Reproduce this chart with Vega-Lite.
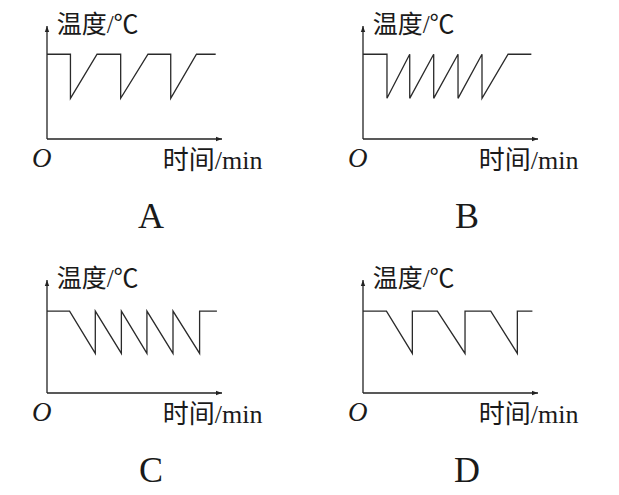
{
  "$schema": "https://vega.github.io/schema/vega-lite/v6.json",
  "autosize": {"type": "pad"},
  "padding": {"left": 32, "top": 13, "right": 40, "bottom": 7},
  "background": "white",
  "config": {"view": {"stroke": null}},
  "data": {"values": [
    {"panel": "A", "kind": "curve", "i": 1, "time": 0, "temp": 7.5},
    {"panel": "A", "kind": "curve", "i": 2, "time": 1.34, "temp": 7.5},
    {"panel": "A", "kind": "curve", "i": 3, "time": 1.34, "temp": 3.6},
    {"panel": "A", "kind": "curve", "i": 4, "time": 2.86, "temp": 7.5},
    {"panel": "A", "kind": "curve", "i": 5, "time": 4.21, "temp": 7.5},
    {"panel": "A", "kind": "curve", "i": 6, "time": 4.21, "temp": 3.6},
    {"panel": "A", "kind": "curve", "i": 7, "time": 5.77, "temp": 7.5},
    {"panel": "A", "kind": "curve", "i": 8, "time": 7.07, "temp": 7.5},
    {"panel": "A", "kind": "curve", "i": 9, "time": 7.07, "temp": 3.6},
    {"panel": "A", "kind": "curve", "i": 10, "time": 8.54, "temp": 7.5},
    {"panel": "A", "kind": "curve", "i": 11, "time": 9.64, "temp": 7.5},

    {"panel": "B", "kind": "curve", "i": 1, "time": 0, "temp": 7.5},
    {"panel": "B", "kind": "curve", "i": 2, "time": 1.37, "temp": 7.5},
    {"panel": "B", "kind": "curve", "i": 3, "time": 1.37, "temp": 3.6},
    {"panel": "B", "kind": "curve", "i": 4, "time": 2.67, "temp": 7.5},
    {"panel": "B", "kind": "curve", "i": 5, "time": 2.67, "temp": 3.6},
    {"panel": "B", "kind": "curve", "i": 6, "time": 4.04, "temp": 7.5},
    {"panel": "B", "kind": "curve", "i": 7, "time": 4.04, "temp": 3.6},
    {"panel": "B", "kind": "curve", "i": 8, "time": 5.43, "temp": 7.5},
    {"panel": "B", "kind": "curve", "i": 9, "time": 5.43, "temp": 3.6},
    {"panel": "B", "kind": "curve", "i": 10, "time": 6.8, "temp": 7.5},
    {"panel": "B", "kind": "curve", "i": 11, "time": 6.8, "temp": 3.6},
    {"panel": "B", "kind": "curve", "i": 12, "time": 8.29, "temp": 7.5},
    {"panel": "B", "kind": "curve", "i": 13, "time": 9.62, "temp": 7.5},

    {"panel": "C", "kind": "curve", "i": 1, "time": 0, "temp": 7.25},
    {"panel": "C", "kind": "curve", "i": 2, "time": 1.29, "temp": 7.25},
    {"panel": "C", "kind": "curve", "i": 3, "time": 2.76, "temp": 3.5},
    {"panel": "C", "kind": "curve", "i": 4, "time": 2.76, "temp": 7.25},
    {"panel": "C", "kind": "curve", "i": 5, "time": 4.25, "temp": 3.5},
    {"panel": "C", "kind": "curve", "i": 6, "time": 4.25, "temp": 7.25},
    {"panel": "C", "kind": "curve", "i": 7, "time": 5.71, "temp": 3.5},
    {"panel": "C", "kind": "curve", "i": 8, "time": 5.71, "temp": 7.25},
    {"panel": "C", "kind": "curve", "i": 9, "time": 7.2, "temp": 3.5},
    {"panel": "C", "kind": "curve", "i": 10, "time": 7.2, "temp": 7.25},
    {"panel": "C", "kind": "curve", "i": 11, "time": 8.72, "temp": 3.5},
    {"panel": "C", "kind": "curve", "i": 12, "time": 8.72, "temp": 7.25},
    {"panel": "C", "kind": "curve", "i": 13, "time": 9.71, "temp": 7.25},

    {"panel": "D", "kind": "curve", "i": 1, "time": 0, "temp": 7.25},
    {"panel": "D", "kind": "curve", "i": 2, "time": 1.34, "temp": 7.25},
    {"panel": "D", "kind": "curve", "i": 3, "time": 2.82, "temp": 3.5},
    {"panel": "D", "kind": "curve", "i": 4, "time": 2.82, "temp": 7.25},
    {"panel": "D", "kind": "curve", "i": 5, "time": 4.25, "temp": 7.25},
    {"panel": "D", "kind": "curve", "i": 6, "time": 5.83, "temp": 3.5},
    {"panel": "D", "kind": "curve", "i": 7, "time": 5.83, "temp": 7.25},
    {"panel": "D", "kind": "curve", "i": 8, "time": 7.3, "temp": 7.25},
    {"panel": "D", "kind": "curve", "i": 9, "time": 8.82, "temp": 3.5},
    {"panel": "D", "kind": "curve", "i": 10, "time": 8.82, "temp": 7.25},
    {"panel": "D", "kind": "curve", "i": 11, "time": 9.68, "temp": 7.25},

    {"panel": "A", "kind": "axis", "time": 0, "temp": 0, "time2": 0, "temp2": 10},
    {"panel": "A", "kind": "axis", "time": 0, "temp": 0, "time2": 10, "temp2": 0},
    {"panel": "B", "kind": "axis", "time": 0, "temp": 0, "time2": 0, "temp2": 10},
    {"panel": "B", "kind": "axis", "time": 0, "temp": 0, "time2": 10, "temp2": 0},
    {"panel": "C", "kind": "axis", "time": 0, "temp": 0, "time2": 0, "temp2": 10},
    {"panel": "C", "kind": "axis", "time": 0, "temp": 0, "time2": 10, "temp2": 0},
    {"panel": "D", "kind": "axis", "time": 0, "temp": 0, "time2": 0, "temp2": 10},
    {"panel": "D", "kind": "axis", "time": 0, "temp": 0, "time2": 10, "temp2": 0},

    {"panel": "A", "kind": "arrow", "time": 0, "temp": 10, "dir": "up"},
    {"panel": "A", "kind": "arrow", "time": 10, "temp": 0, "dir": "right"},
    {"panel": "B", "kind": "arrow", "time": 0, "temp": 10, "dir": "up"},
    {"panel": "B", "kind": "arrow", "time": 10, "temp": 0, "dir": "right"},
    {"panel": "C", "kind": "arrow", "time": 0, "temp": 10, "dir": "up"},
    {"panel": "C", "kind": "arrow", "time": 10, "temp": 0, "dir": "right"},
    {"panel": "D", "kind": "arrow", "time": 0, "temp": 10, "dir": "up"},
    {"panel": "D", "kind": "arrow", "time": 10, "temp": 0, "dir": "right"},

    {"panel": "A", "kind": "ytitle", "time": 0.55, "temp": 9.38, "text": "温度/℃"},
    {"panel": "B", "kind": "ytitle", "time": 0.55, "temp": 9.38, "text": "温度/℃"},
    {"panel": "C", "kind": "ytitle", "time": 0.55, "temp": 9.38, "text": "温度/℃"},
    {"panel": "D", "kind": "ytitle", "time": 0.55, "temp": 9.38, "text": "温度/℃"},
    {"panel": "A", "kind": "xtitle", "time": 6.62, "temp": -2.65, "text": "时间/min"},
    {"panel": "B", "kind": "xtitle", "time": 6.62, "temp": -2.65, "text": "时间/min"},
    {"panel": "C", "kind": "xtitle", "time": 6.62, "temp": -2.65, "text": "时间/min"},
    {"panel": "D", "kind": "xtitle", "time": 6.62, "temp": -2.65, "text": "时间/min"},
    {"panel": "A", "kind": "origin", "time": -0.3, "temp": -2.48, "text": "O"},
    {"panel": "B", "kind": "origin", "time": -0.3, "temp": -2.48, "text": "O"},
    {"panel": "C", "kind": "origin", "time": -0.3, "temp": -2.48, "text": "O"},
    {"panel": "D", "kind": "origin", "time": -0.3, "temp": -2.48, "text": "O"},
    {"panel": "A", "kind": "letter", "time": 5.94, "temp": -7.9, "text": "A"},
    {"panel": "B", "kind": "letter", "time": 5.94, "temp": -7.9, "text": "B"},
    {"panel": "C", "kind": "letter", "time": 5.94, "temp": -7.9, "text": "C"},
    {"panel": "D", "kind": "letter", "time": 5.94, "temp": -7.9, "text": "D"}
  ]},
  "transform": [
    {"lookup": "panel", "from": {"data": {"values": [
      {"panel": "A", "prow": "r1", "pcol": "c1"},
      {"panel": "B", "prow": "r1", "pcol": "c2"},
      {"panel": "C", "prow": "r2", "pcol": "c1"},
      {"panel": "D", "prow": "r2", "pcol": "c2"}
    ]}, "key": "panel", "fields": ["prow", "pcol"]}}
  ],
  "facet": {
    "row": {"field": "prow", "type": "nominal", "header": {"labels": false, "title": null}},
    "column": {"field": "pcol", "type": "nominal", "header": {"labels": false, "title": null}}
  },
  "spacing": {"row": 141, "column": 141},
  "bounds": "flush",
  "spec": {
    "width": 175,
    "height": 113,
    "encoding": {
      "x": {"field": "time", "type": "quantitative", "scale": {"domain": [0, 10], "nice": false, "zero": false}, "axis": null},
      "y": {"field": "temp", "type": "quantitative", "scale": {"domain": [0, 10], "nice": false, "zero": false}, "axis": null}
    },
    "layer": [
      {
        "transform": [{"filter": "datum.kind === 'axis'"}],
        "mark": {"type": "rule", "color": "#222222", "strokeWidth": 1.3},
        "encoding": {
          "x2": {"field": "time2"},
          "y2": {"field": "temp2"}
        }
      },
      {
        "transform": [{"filter": "datum.kind === 'arrow'"}],
        "mark": {"type": "point", "filled": true, "color": "#222222", "size": 30, "opacity": 1, "strokeWidth": 0},
        "encoding": {
          "shape": {"field": "dir", "type": "nominal", "legend": null,
            "scale": {"domain": ["up", "right"], "range": ["M0,0L-0.8,2.2L0.8,2.2Z", "M0,0L-2.2,-0.8L-2.2,0.8Z"]}}
        }
      },
      {
        "transform": [{"filter": "datum.kind === 'curve'"}],
        "mark": {"type": "line", "color": "#2a2a2a", "strokeWidth": 1.3},
        "encoding": {
          "order": {"field": "i", "type": "quantitative"}
        }
      },
      {
        "transform": [{"filter": "datum.kind === 'ytitle'"}],
        "mark": {"type": "text", "align": "left", "baseline": "alphabetic", "fontSize": 25, "font": "'Liberation Serif', 'Noto Sans CJK SC', serif", "color": "#1a1a1a"},
        "encoding": {"text": {"field": "text"}}
      },
      {
        "transform": [{"filter": "datum.kind === 'xtitle'"}],
        "mark": {"type": "text", "align": "left", "baseline": "alphabetic", "fontSize": 26, "font": "'Liberation Serif', 'Noto Sans CJK SC', serif", "color": "#1a1a1a"},
        "encoding": {"text": {"field": "text"}}
      },
      {
        "transform": [{"filter": "datum.kind === 'origin'"}],
        "mark": {"type": "text", "align": "center", "baseline": "alphabetic", "fontSize": 27, "fontStyle": "italic", "font": "'Liberation Serif', serif", "color": "#1a1a1a"},
        "encoding": {"text": {"field": "text"}}
      },
      {
        "transform": [{"filter": "datum.kind === 'letter'"}],
        "mark": {"type": "text", "align": "center", "baseline": "alphabetic", "fontSize": 36, "font": "'Liberation Serif', serif", "color": "#1a1a1a"},
        "encoding": {"text": {"field": "text"}}
      }
    ]
  }
}
